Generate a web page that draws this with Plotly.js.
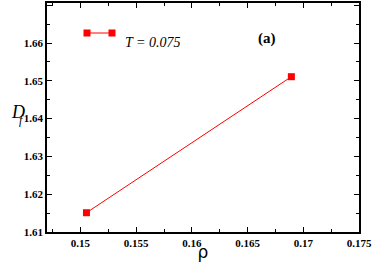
<!DOCTYPE html>
<html><head><meta charset="utf-8">
<script src="https://cdn.plot.ly/plotly-3.0.1.min.js"></script>
<style>html,body{margin:0;padding:0;background:#fff}.c{width:374px;height:262px}</style>
</head><body><div id="p0" class="c"></div>
<script>
const rho = [0.15054, 0.16893];
const Df = [1.6151, 1.6511];
const seriesName = "T = 0.075";
const panelLabel = "(a)";

(function () {
  const mL = 47, mR = 15, mT = 3, mB = 30, figW = 374, figH = 262;
  const plotW = figW - mL - mR, plotH = figH - mT - mB;
  const toPaperX = v => (v - mL) / plotW;
  const toPaperY = v => (figH - mB - v) / plotH;

  const red = "#ff0000";
  const serif = "Liberation Serif";
  const tickFont = {family: serif, size: 11, color: "#000000", weight: 700};

  const shapes = [
    {type: "rect", xref: "paper", yref: "paper", x0: toPaperX(87), x1: toPaperX(112), y0: toPaperY(32.5), y1: toPaperY(33.5), line: {width: 0}, fillcolor: red},
    {type: "rect", xref: "paper", yref: "paper", x0: toPaperX(83.5), x1: toPaperX(90.5), y0: toPaperY(29.5), y1: toPaperY(36.5), line: {width: 0}, fillcolor: red},
    {type: "rect", xref: "paper", yref: "paper", x0: toPaperX(108.5), x1: toPaperX(115.5), y0: toPaperY(29.5), y1: toPaperY(36.5), line: {width: 0}, fillcolor: red}
  ];

  Plotly.newPlot("p0", [{
    x: rho, y: Df, type: "scatter", mode: "lines+markers",
    line: {color: red, width: 1},
    marker: {symbol: "square", size: 7, color: red},
    showlegend: false
  }], {
    width: figW, height: figH,
    margin: {l: mL, r: mR, t: mT, b: mB},
    xaxis: {
      range: [0.147, 0.175], dtick: 0.005,
      ticks: "inside", ticklen: 5, tickwidth: 1.2, tickcolor: "#000000",
      minor: {dtick: 0.0025, ticks: "inside", ticklen: 3, tickcolor: "#000000", tickwidth: 1.2},
      showline: true, linecolor: "#000000", linewidth: 1.5, mirror: "allticks",
      showgrid: false, zeroline: false, tickfont: tickFont,
      title: {text: "ρ", font: {family: "DejaVu Sans", size: 17, color: "#000000"}, standoff: 1}
    },
    yaxis: {
      range: [1.61, 1.6706], dtick: 0.01,
      ticks: "inside", ticklen: 5, tickwidth: 1.2, tickcolor: "#000000",
      minor: {dtick: 0.005, ticks: "inside", ticklen: 3, tickcolor: "#000000", tickwidth: 1.2},
      showline: true, linecolor: "#000000", linewidth: 1.5, mirror: "allticks",
      showgrid: false, zeroline: false, tickfont: tickFont
    },
    shapes: shapes,
    annotations: [
      {xref: "paper", yref: "paper", x: toPaperX(9), y: toPaperY(112), text: "<i>D</i>", showarrow: false,
       font: {family: serif, size: 18, color: "#000000"}},
      {xref: "paper", yref: "paper", x: toPaperX(17), y: toPaperY(120), text: "<i>f</i>", showarrow: false,
       font: {family: serif, size: 12, color: "#000000"}},
      {xref: "paper", yref: "paper", x: toPaperX(123), y: toPaperY(33), xanchor: "left", text: "<i>" + seriesName + "</i>", showarrow: false,
       font: {family: serif, size: 14, color: "#000000"}},
      {xref: "paper", yref: "paper", x: toPaperX(278), y: toPaperY(28), text: "<b>" + panelLabel + "</b>", showarrow: false,
       font: {family: serif, size: 15, color: "#000000"}}
    ]
  }, {displayModeBar: false});
})();
</script></body></html>
